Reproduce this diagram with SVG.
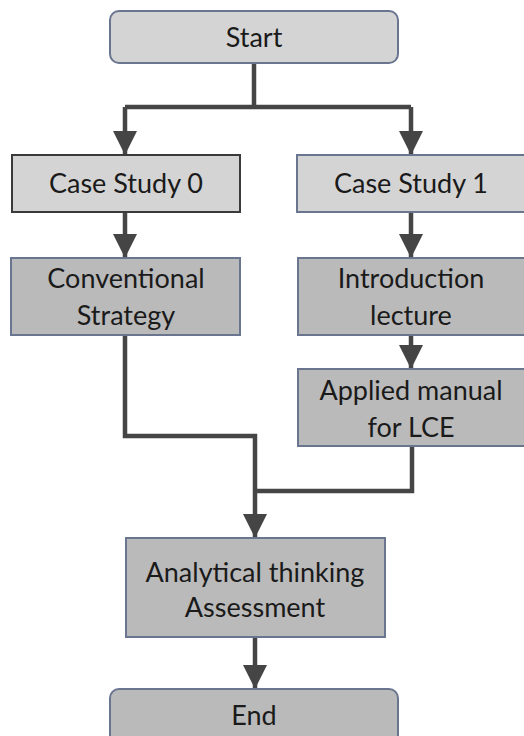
<svg xmlns="http://www.w3.org/2000/svg" width="524" height="736" viewBox="0 0 524 736">
<defs>
<marker id="ah" markerUnits="userSpaceOnUse" markerWidth="24" markerHeight="28" refX="24" refY="12" orient="auto" viewBox="0 0 24 24">
<path d="M0,0 L24,12 L0,24 Z" fill="#454545"/>
</marker>
<style>
.box{stroke:#6a7590;stroke-width:2}
.light{fill:#d4d4d4}
.dark{fill:#bababa}
.t{font-family:Lato,"Open Sans","Liberation Sans",sans-serif;font-size:27px;fill:#1a1a1a;text-anchor:middle}
.c{fill:none;stroke:#454545;stroke-width:4.5}
</style>
</defs>
<rect width="524" height="736" fill="#fff"/>
<g id="connectors">
<path class="c" d="M254,63 V107 M125,107 H411"/>
<path class="c" d="M125,107 V155" marker-end="url(#ah)"/>
<path class="c" d="M411,107 V155" marker-end="url(#ah)"/>
<path class="c" d="M125,212 V258" marker-end="url(#ah)"/>
<path class="c" d="M411,212 V258" marker-end="url(#ah)"/>
<path class="c" d="M411,335 V369" marker-end="url(#ah)"/>
<path class="c" d="M125,335 V436 H255 V538" marker-end="url(#ah)"/>
<path class="c" d="M412,446 V491 H253"/>
<path class="c" d="M255,637 V689" marker-end="url(#ah)"/>
</g>
<g id="start">
<rect class="box light" x="110" y="11" width="288" height="52" rx="9"/>
<text class="t" x="254" y="47">Start</text>
</g>
<g id="case0">
<rect class="light" x="12" y="155" width="228" height="57" stroke="#3a3a3a" stroke-width="2"/>
<text class="t" x="126" y="193">Case Study 0</text>
</g>
<g id="case1">
<rect class="box light" x="297" y="155" width="240" height="57"/>
<text class="t" x="411" y="193">Case Study 1</text>
</g>
<g id="conventional">
<rect class="box dark" x="11" y="258" width="229" height="77"/>
<text class="t" x="126" y="288">Conventional</text>
<text class="t" x="126" y="325">Strategy</text>
</g>
<g id="intro">
<rect class="box dark" x="298" y="258" width="240" height="77"/>
<text class="t" x="411" y="288">Introduction</text>
<text class="t" x="411" y="325">lecture</text>
</g>
<g id="applied">
<rect class="box dark" x="298" y="369" width="240" height="77"/>
<text class="t" x="411" y="400">Applied manual</text>
<text class="t" x="411" y="437">for LCE</text>
</g>
<g id="analytical">
<rect class="box dark" x="126" y="538" width="259" height="99"/>
<text class="t" x="255" y="582">Analytical thinking</text>
<text class="t" x="255" y="617">Assessment</text>
</g>
<g id="end">
<rect class="box dark" x="110" y="689" width="288" height="60" rx="9"/>
<text class="t" x="254" y="725">End</text>
</g>
</svg>
